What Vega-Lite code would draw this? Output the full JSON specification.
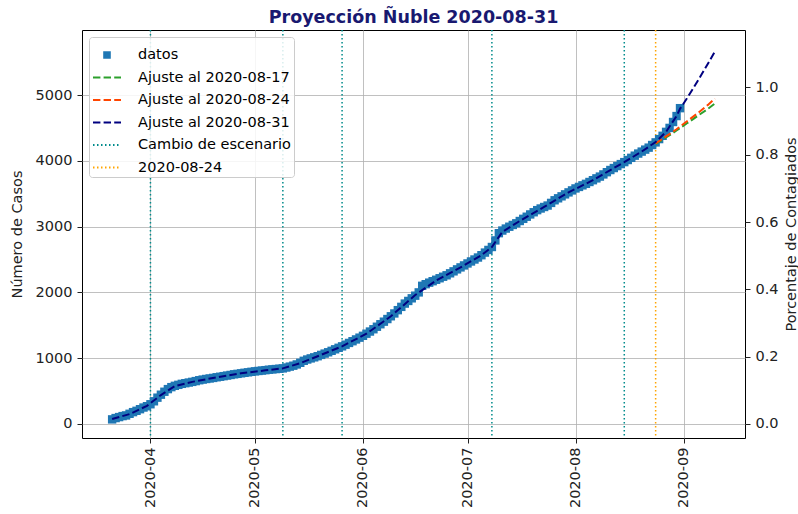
{
  "$schema": "https://vega.github.io/schema/vega-lite/v6.json",
  "width": 663,
  "height": 408,
  "autosize": "none",
  "padding": {"left": 82, "top": 30, "right": 53, "bottom": 76},
  "background": "white",
  "title": {"text": "Proyección Ñuble 2020-08-31", "font": "DejaVu Sans", "fontSize": 17.5, "fontWeight": "bold", "color": "#191970", "anchor": "middle", "offset": 3},
  "config": {
    "font": "DejaVu Sans",
    "view": {"stroke": "#000000", "strokeWidth": 1},
    "axis": {"labelFont": "DejaVu Sans", "labelFontSize": 14.5, "labelColor": "#222222", "titleFont": "DejaVu Sans", "titleFontSize": 14.5, "titleFontWeight": "normal", "titleColor": "#222222", "domain": false, "tickColor": "#222222", "tickSize": 5, "labelPadding": 4, "gridColor": "#b0b0b0", "gridWidth": 0.8, "gridOpacity": 1},
    "legend": {"orient": "top-left", "offset": 7, "fillColor": "rgba(255,255,255,0.85)", "strokeColor": "#cccccc", "cornerRadius": 3, "padding": 3, "labelFont": "DejaVu Sans", "labelFontSize": 14.5, "labelColor": "#000000", "labelLimit": 400, "symbolSize": 784, "symbolStrokeWidth": 2, "symbolOpacity": 1, "rowPadding": 0.5, "labelOffset": 16}
  },
  "datasets": {
    "datos": [
      {"fecha": "2020-03-21", "casos": 70, "serie": "datos"},
      {"fecha": "2020-03-22", "casos": 90, "serie": "datos"},
      {"fecha": "2020-03-23", "casos": 105, "serie": "datos"},
      {"fecha": "2020-03-24", "casos": 120, "serie": "datos"},
      {"fecha": "2020-03-25", "casos": 130, "serie": "datos"},
      {"fecha": "2020-03-26", "casos": 155, "serie": "datos"},
      {"fecha": "2020-03-27", "casos": 180, "serie": "datos"},
      {"fecha": "2020-03-28", "casos": 200, "serie": "datos"},
      {"fecha": "2020-03-29", "casos": 225, "serie": "datos"},
      {"fecha": "2020-03-30", "casos": 250, "serie": "datos"},
      {"fecha": "2020-03-31", "casos": 270, "serie": "datos"},
      {"fecha": "2020-04-01", "casos": 300, "serie": "datos"},
      {"fecha": "2020-04-02", "casos": 345, "serie": "datos"},
      {"fecha": "2020-04-03", "casos": 400, "serie": "datos"},
      {"fecha": "2020-04-04", "casos": 445, "serie": "datos"},
      {"fecha": "2020-04-05", "casos": 490, "serie": "datos"},
      {"fecha": "2020-04-06", "casos": 530, "serie": "datos"},
      {"fecha": "2020-04-07", "casos": 560, "serie": "datos"},
      {"fecha": "2020-04-08", "casos": 580, "serie": "datos"},
      {"fecha": "2020-04-09", "casos": 595, "serie": "datos"},
      {"fecha": "2020-04-10", "casos": 610, "serie": "datos"},
      {"fecha": "2020-04-11", "casos": 620, "serie": "datos"},
      {"fecha": "2020-04-12", "casos": 630, "serie": "datos"},
      {"fecha": "2020-04-13", "casos": 640, "serie": "datos"},
      {"fecha": "2020-04-14", "casos": 652, "serie": "datos"},
      {"fecha": "2020-04-15", "casos": 665, "serie": "datos"},
      {"fecha": "2020-04-16", "casos": 675, "serie": "datos"},
      {"fecha": "2020-04-17", "casos": 684, "serie": "datos"},
      {"fecha": "2020-04-18", "casos": 692, "serie": "datos"},
      {"fecha": "2020-04-19", "casos": 700, "serie": "datos"},
      {"fecha": "2020-04-20", "casos": 710, "serie": "datos"},
      {"fecha": "2020-04-21", "casos": 718, "serie": "datos"},
      {"fecha": "2020-04-22", "casos": 727, "serie": "datos"},
      {"fecha": "2020-04-23", "casos": 736, "serie": "datos"},
      {"fecha": "2020-04-24", "casos": 745, "serie": "datos"},
      {"fecha": "2020-04-25", "casos": 755, "serie": "datos"},
      {"fecha": "2020-04-26", "casos": 762, "serie": "datos"},
      {"fecha": "2020-04-27", "casos": 770, "serie": "datos"},
      {"fecha": "2020-04-28", "casos": 778, "serie": "datos"},
      {"fecha": "2020-04-29", "casos": 785, "serie": "datos"},
      {"fecha": "2020-04-30", "casos": 793, "serie": "datos"},
      {"fecha": "2020-05-01", "casos": 800, "serie": "datos"},
      {"fecha": "2020-05-02", "casos": 806, "serie": "datos"},
      {"fecha": "2020-05-03", "casos": 812, "serie": "datos"},
      {"fecha": "2020-05-04", "casos": 818, "serie": "datos"},
      {"fecha": "2020-05-05", "casos": 825, "serie": "datos"},
      {"fecha": "2020-05-06", "casos": 830, "serie": "datos"},
      {"fecha": "2020-05-07", "casos": 835, "serie": "datos"},
      {"fecha": "2020-05-08", "casos": 840, "serie": "datos"},
      {"fecha": "2020-05-09", "casos": 845, "serie": "datos"},
      {"fecha": "2020-05-10", "casos": 858, "serie": "datos"},
      {"fecha": "2020-05-11", "casos": 872, "serie": "datos"},
      {"fecha": "2020-05-12", "casos": 886, "serie": "datos"},
      {"fecha": "2020-05-13", "casos": 905, "serie": "datos"},
      {"fecha": "2020-05-14", "casos": 930, "serie": "datos"},
      {"fecha": "2020-05-15", "casos": 960, "serie": "datos"},
      {"fecha": "2020-05-16", "casos": 980, "serie": "datos"},
      {"fecha": "2020-05-17", "casos": 997, "serie": "datos"},
      {"fecha": "2020-05-18", "casos": 1013, "serie": "datos"},
      {"fecha": "2020-05-19", "casos": 1030, "serie": "datos"},
      {"fecha": "2020-05-20", "casos": 1050, "serie": "datos"},
      {"fecha": "2020-05-21", "casos": 1070, "serie": "datos"},
      {"fecha": "2020-05-22", "casos": 1090, "serie": "datos"},
      {"fecha": "2020-05-23", "casos": 1112, "serie": "datos"},
      {"fecha": "2020-05-24", "casos": 1135, "serie": "datos"},
      {"fecha": "2020-05-25", "casos": 1158, "serie": "datos"},
      {"fecha": "2020-05-26", "casos": 1180, "serie": "datos"},
      {"fecha": "2020-05-27", "casos": 1205, "serie": "datos"},
      {"fecha": "2020-05-28", "casos": 1232, "serie": "datos"},
      {"fecha": "2020-05-29", "casos": 1258, "serie": "datos"},
      {"fecha": "2020-05-30", "casos": 1285, "serie": "datos"},
      {"fecha": "2020-05-31", "casos": 1312, "serie": "datos"},
      {"fecha": "2020-06-01", "casos": 1340, "serie": "datos"},
      {"fecha": "2020-06-02", "casos": 1372, "serie": "datos"},
      {"fecha": "2020-06-03", "casos": 1405, "serie": "datos"},
      {"fecha": "2020-06-04", "casos": 1440, "serie": "datos"},
      {"fecha": "2020-06-05", "casos": 1478, "serie": "datos"},
      {"fecha": "2020-06-06", "casos": 1516, "serie": "datos"},
      {"fecha": "2020-06-07", "casos": 1555, "serie": "datos"},
      {"fecha": "2020-06-08", "casos": 1595, "serie": "datos"},
      {"fecha": "2020-06-09", "casos": 1637, "serie": "datos"},
      {"fecha": "2020-06-10", "casos": 1680, "serie": "datos"},
      {"fecha": "2020-06-11", "casos": 1730, "serie": "datos"},
      {"fecha": "2020-06-12", "casos": 1780, "serie": "datos"},
      {"fecha": "2020-06-13", "casos": 1830, "serie": "datos"},
      {"fecha": "2020-06-14", "casos": 1870, "serie": "datos"},
      {"fecha": "2020-06-15", "casos": 1910, "serie": "datos"},
      {"fecha": "2020-06-16", "casos": 1950, "serie": "datos"},
      {"fecha": "2020-06-17", "casos": 2000, "serie": "datos"},
      {"fecha": "2020-06-18", "casos": 2100, "serie": "datos"},
      {"fecha": "2020-06-19", "casos": 2125, "serie": "datos"},
      {"fecha": "2020-06-20", "casos": 2148, "serie": "datos"},
      {"fecha": "2020-06-21", "casos": 2170, "serie": "datos"},
      {"fecha": "2020-06-22", "casos": 2192, "serie": "datos"},
      {"fecha": "2020-06-23", "casos": 2215, "serie": "datos"},
      {"fecha": "2020-06-24", "casos": 2238, "serie": "datos"},
      {"fecha": "2020-06-25", "casos": 2260, "serie": "datos"},
      {"fecha": "2020-06-26", "casos": 2290, "serie": "datos"},
      {"fecha": "2020-06-27", "casos": 2320, "serie": "datos"},
      {"fecha": "2020-06-28", "casos": 2350, "serie": "datos"},
      {"fecha": "2020-06-29", "casos": 2380, "serie": "datos"},
      {"fecha": "2020-06-30", "casos": 2410, "serie": "datos"},
      {"fecha": "2020-07-01", "casos": 2440, "serie": "datos"},
      {"fecha": "2020-07-02", "casos": 2470, "serie": "datos"},
      {"fecha": "2020-07-03", "casos": 2500, "serie": "datos"},
      {"fecha": "2020-07-04", "casos": 2530, "serie": "datos"},
      {"fecha": "2020-07-05", "casos": 2565, "serie": "datos"},
      {"fecha": "2020-07-06", "casos": 2605, "serie": "datos"},
      {"fecha": "2020-07-07", "casos": 2645, "serie": "datos"},
      {"fecha": "2020-07-08", "casos": 2690, "serie": "datos"},
      {"fecha": "2020-07-09", "casos": 2790, "serie": "datos"},
      {"fecha": "2020-07-10", "casos": 2900, "serie": "datos"},
      {"fecha": "2020-07-11", "casos": 2940, "serie": "datos"},
      {"fecha": "2020-07-12", "casos": 2970, "serie": "datos"},
      {"fecha": "2020-07-13", "casos": 2998, "serie": "datos"},
      {"fecha": "2020-07-14", "casos": 3025, "serie": "datos"},
      {"fecha": "2020-07-15", "casos": 3050, "serie": "datos"},
      {"fecha": "2020-07-16", "casos": 3085, "serie": "datos"},
      {"fecha": "2020-07-17", "casos": 3118, "serie": "datos"},
      {"fecha": "2020-07-18", "casos": 3150, "serie": "datos"},
      {"fecha": "2020-07-19", "casos": 3185, "serie": "datos"},
      {"fecha": "2020-07-20", "casos": 3218, "serie": "datos"},
      {"fecha": "2020-07-21", "casos": 3250, "serie": "datos"},
      {"fecha": "2020-07-22", "casos": 3275, "serie": "datos"},
      {"fecha": "2020-07-23", "casos": 3298, "serie": "datos"},
      {"fecha": "2020-07-24", "casos": 3320, "serie": "datos"},
      {"fecha": "2020-07-25", "casos": 3360, "serie": "datos"},
      {"fecha": "2020-07-26", "casos": 3400, "serie": "datos"},
      {"fecha": "2020-07-27", "casos": 3430, "serie": "datos"},
      {"fecha": "2020-07-28", "casos": 3460, "serie": "datos"},
      {"fecha": "2020-07-29", "casos": 3490, "serie": "datos"},
      {"fecha": "2020-07-30", "casos": 3520, "serie": "datos"},
      {"fecha": "2020-07-31", "casos": 3550, "serie": "datos"},
      {"fecha": "2020-08-01", "casos": 3580, "serie": "datos"},
      {"fecha": "2020-08-02", "casos": 3603, "serie": "datos"},
      {"fecha": "2020-08-03", "casos": 3627, "serie": "datos"},
      {"fecha": "2020-08-04", "casos": 3650, "serie": "datos"},
      {"fecha": "2020-08-05", "casos": 3678, "serie": "datos"},
      {"fecha": "2020-08-06", "casos": 3705, "serie": "datos"},
      {"fecha": "2020-08-07", "casos": 3733, "serie": "datos"},
      {"fecha": "2020-08-08", "casos": 3760, "serie": "datos"},
      {"fecha": "2020-08-09", "casos": 3793, "serie": "datos"},
      {"fecha": "2020-08-10", "casos": 3827, "serie": "datos"},
      {"fecha": "2020-08-11", "casos": 3860, "serie": "datos"},
      {"fecha": "2020-08-12", "casos": 3890, "serie": "datos"},
      {"fecha": "2020-08-13", "casos": 3920, "serie": "datos"},
      {"fecha": "2020-08-14", "casos": 3950, "serie": "datos"},
      {"fecha": "2020-08-15", "casos": 3980, "serie": "datos"},
      {"fecha": "2020-08-16", "casos": 4012, "serie": "datos"},
      {"fecha": "2020-08-17", "casos": 4045, "serie": "datos"},
      {"fecha": "2020-08-18", "casos": 4078, "serie": "datos"},
      {"fecha": "2020-08-19", "casos": 4110, "serie": "datos"},
      {"fecha": "2020-08-20", "casos": 4140, "serie": "datos"},
      {"fecha": "2020-08-21", "casos": 4170, "serie": "datos"},
      {"fecha": "2020-08-22", "casos": 4200, "serie": "datos"},
      {"fecha": "2020-08-23", "casos": 4240, "serie": "datos"},
      {"fecha": "2020-08-24", "casos": 4280, "serie": "datos"},
      {"fecha": "2020-08-25", "casos": 4330, "serie": "datos"},
      {"fecha": "2020-08-26", "casos": 4380, "serie": "datos"},
      {"fecha": "2020-08-27", "casos": 4440, "serie": "datos"},
      {"fecha": "2020-08-28", "casos": 4500, "serie": "datos"},
      {"fecha": "2020-08-29", "casos": 4590, "serie": "datos"},
      {"fecha": "2020-08-30", "casos": 4680, "serie": "datos"},
      {"fecha": "2020-08-31", "casos": 4800, "serie": "datos"}
    ],
    "ajustes": [
      {"fecha": "2020-08-24", "casos": 4255, "serie": "Ajuste al 2020-08-17"},
      {"fecha": "2020-08-27", "casos": 4355, "serie": "Ajuste al 2020-08-17"},
      {"fecha": "2020-08-30", "casos": 4460, "serie": "Ajuste al 2020-08-17"},
      {"fecha": "2020-09-02", "casos": 4570, "serie": "Ajuste al 2020-08-17"},
      {"fecha": "2020-09-05", "casos": 4680, "serie": "Ajuste al 2020-08-17"},
      {"fecha": "2020-09-08", "casos": 4790, "serie": "Ajuste al 2020-08-17"},
      {"fecha": "2020-09-10", "casos": 4870, "serie": "Ajuste al 2020-08-17"},
      {"fecha": "2020-08-24", "casos": 4265, "serie": "Ajuste al 2020-08-24"},
      {"fecha": "2020-08-27", "casos": 4370, "serie": "Ajuste al 2020-08-24"},
      {"fecha": "2020-08-30", "casos": 4480, "serie": "Ajuste al 2020-08-24"},
      {"fecha": "2020-09-02", "casos": 4600, "serie": "Ajuste al 2020-08-24"},
      {"fecha": "2020-09-05", "casos": 4720, "serie": "Ajuste al 2020-08-24"},
      {"fecha": "2020-09-08", "casos": 4850, "serie": "Ajuste al 2020-08-24"},
      {"fecha": "2020-09-10", "casos": 4945, "serie": "Ajuste al 2020-08-24"},
      {"fecha": "2020-03-21", "casos": 75, "serie": "Ajuste al 2020-08-31"},
      {"fecha": "2020-03-26", "casos": 150, "serie": "Ajuste al 2020-08-31"},
      {"fecha": "2020-03-31", "casos": 275, "serie": "Ajuste al 2020-08-31"},
      {"fecha": "2020-04-04", "casos": 440, "serie": "Ajuste al 2020-08-31"},
      {"fecha": "2020-04-08", "casos": 575, "serie": "Ajuste al 2020-08-31"},
      {"fecha": "2020-04-13", "casos": 640, "serie": "Ajuste al 2020-08-31"},
      {"fecha": "2020-04-20", "casos": 710, "serie": "Ajuste al 2020-08-31"},
      {"fecha": "2020-04-27", "casos": 770, "serie": "Ajuste al 2020-08-31"},
      {"fecha": "2020-05-04", "casos": 815, "serie": "Ajuste al 2020-08-31"},
      {"fecha": "2020-05-09", "casos": 845, "serie": "Ajuste al 2020-08-31"},
      {"fecha": "2020-05-14", "casos": 925, "serie": "Ajuste al 2020-08-31"},
      {"fecha": "2020-05-19", "casos": 1030, "serie": "Ajuste al 2020-08-31"},
      {"fecha": "2020-05-26", "casos": 1180, "serie": "Ajuste al 2020-08-31"},
      {"fecha": "2020-06-02", "casos": 1372, "serie": "Ajuste al 2020-08-31"},
      {"fecha": "2020-06-09", "casos": 1637, "serie": "Ajuste al 2020-08-31"},
      {"fecha": "2020-06-16", "casos": 1960, "serie": "Ajuste al 2020-08-31"},
      {"fecha": "2020-06-22", "casos": 2180, "serie": "Ajuste al 2020-08-31"},
      {"fecha": "2020-06-29", "casos": 2380, "serie": "Ajuste al 2020-08-31"},
      {"fecha": "2020-07-05", "casos": 2565, "serie": "Ajuste al 2020-08-31"},
      {"fecha": "2020-07-08", "casos": 2690, "serie": "Ajuste al 2020-08-31"},
      {"fecha": "2020-07-11", "casos": 2920, "serie": "Ajuste al 2020-08-31"},
      {"fecha": "2020-07-16", "casos": 3085, "serie": "Ajuste al 2020-08-31"},
      {"fecha": "2020-07-23", "casos": 3300, "serie": "Ajuste al 2020-08-31"},
      {"fecha": "2020-07-30", "casos": 3520, "serie": "Ajuste al 2020-08-31"},
      {"fecha": "2020-08-06", "casos": 3705, "serie": "Ajuste al 2020-08-31"},
      {"fecha": "2020-08-11", "casos": 3860, "serie": "Ajuste al 2020-08-31"},
      {"fecha": "2020-08-15", "casos": 3980, "serie": "Ajuste al 2020-08-31"},
      {"fecha": "2020-08-20", "casos": 4140, "serie": "Ajuste al 2020-08-31"},
      {"fecha": "2020-08-24", "casos": 4285, "serie": "Ajuste al 2020-08-31"},
      {"fecha": "2020-08-27", "casos": 4440, "serie": "Ajuste al 2020-08-31"},
      {"fecha": "2020-08-30", "casos": 4680, "serie": "Ajuste al 2020-08-31"},
      {"fecha": "2020-08-31", "casos": 4790, "serie": "Ajuste al 2020-08-31"},
      {"fecha": "2020-09-02", "casos": 4950, "serie": "Ajuste al 2020-08-31"},
      {"fecha": "2020-09-04", "casos": 5120, "serie": "Ajuste al 2020-08-31"},
      {"fecha": "2020-09-06", "casos": 5295, "serie": "Ajuste al 2020-08-31"},
      {"fecha": "2020-09-08", "casos": 5475, "serie": "Ajuste al 2020-08-31"},
      {"fecha": "2020-09-10", "casos": 5660, "serie": "Ajuste al 2020-08-31"}
    ],
    "cambios": [
      {"fecha": "2020-04-01", "serie": "Cambio de escenario"},
      {"fecha": "2020-05-09", "serie": "Cambio de escenario"},
      {"fecha": "2020-05-26", "serie": "Cambio de escenario"},
      {"fecha": "2020-07-08", "serie": "Cambio de escenario"},
      {"fecha": "2020-08-15", "serie": "Cambio de escenario"},
      {"fecha": "2020-08-24", "serie": "2020-08-24"}
    ],
    "porcentaje": [
      {"pct": 0},
      {"pct": 1}
    ]
  },
  "layer": [
    {
      "encoding": {
        "x": {
          "field": "fecha", "type": "temporal",
          "scale": {"type": "utc", "nice": false, "domain": [
            {"year": 2020, "month": 3, "date": 12, "hours": 8, "minutes": 24, "utc": true},
            {"year": 2020, "month": 9, "date": 18, "hours": 15, "minutes": 36, "utc": true}
          ]},
          "axis": {
            "title": null, "format": "%Y-%m", "labelAngle": -90, "labelAlign": "right", "labelBaseline": "middle", "grid": true, "labelPadding": 4,
            "values": [
              {"year": 2020, "month": 4, "date": 1, "utc": true},
              {"year": 2020, "month": 5, "date": 1, "utc": true},
              {"year": 2020, "month": 6, "date": 1, "utc": true},
              {"year": 2020, "month": 7, "date": 1, "utc": true},
              {"year": 2020, "month": 8, "date": 1, "utc": true},
              {"year": 2020, "month": 9, "date": 1, "utc": true}
            ]
          }
        },
        "color": {
          "field": "serie", "type": "nominal",
          "scale": {
            "domain": ["datos", "Ajuste al 2020-08-17", "Ajuste al 2020-08-24", "Ajuste al 2020-08-31", "Cambio de escenario", "2020-08-24"],
            "range": ["#1f77b4", "#2ca02c", "#ff4500", "#000080", "#008b8b", "#ffa500"]
          },
          "legend": {"title": null}
        }
      },
      "layer": [
        {
          "data": {"name": "cambios"},
          "mark": {"type": "rule", "strokeWidth": 1.5},
          "encoding": {
            "strokeDash": {
              "field": "serie", "type": "nominal",
              "scale": {
                "domain": ["datos", "Ajuste al 2020-08-17", "Ajuste al 2020-08-24", "Ajuste al 2020-08-31", "Cambio de escenario", "2020-08-24"],
                "range": [[1, 0], [7.4, 3.2], [7.4, 3.2], [7.4, 3.2], [1.5, 2.5], [1.5, 2.5]]
              },
              "legend": {"title": null}
            }
          }
        },
        {
          "data": {"name": "datos"},
          "mark": {"type": "point", "size": 1764, "opacity": 1, "filled": true},
          "encoding": {
            "y": {"field": "casos", "type": "quantitative", "scale": {"domain": [-213, 5988], "nice": false, "zero": false}, "axis": {"title": "Número de Casos", "format": "d", "values": [0, 1000, 2000, 3000, 4000, 5000], "grid": true, "labelPadding": 5, "titlePadding": 11}},
            "shape": {
              "field": "serie", "type": "nominal",
              "scale": {
                "domain": ["datos", "Ajuste al 2020-08-17", "Ajuste al 2020-08-24", "Ajuste al 2020-08-31", "Cambio de escenario", "2020-08-24"],
                "range": ["M-0.2,-0.2H0.2V0.2H-0.2Z", "stroke", "stroke", "stroke", "stroke", "stroke"]
              },
              "legend": {"title": null}
            }
          }
        },
        {
          "data": {"name": "ajustes"},
          "mark": {"type": "line", "strokeWidth": 2},
          "encoding": {
            "y": {"field": "casos", "type": "quantitative", "scale": {"domain": [-213, 5988], "nice": false, "zero": false}, "axis": {"title": "Número de Casos", "format": "d", "values": [0, 1000, 2000, 3000, 4000, 5000], "grid": true, "labelPadding": 5, "titlePadding": 11}},
            "strokeDash": {
              "field": "serie", "type": "nominal",
              "scale": {
                "domain": ["datos", "Ajuste al 2020-08-17", "Ajuste al 2020-08-24", "Ajuste al 2020-08-31", "Cambio de escenario", "2020-08-24"],
                "range": [[1, 0], [7.4, 3.2], [7.4, 3.2], [7.4, 3.2], [1.5, 2.5], [1.5, 2.5]]
              },
              "legend": {"title": null}
            }
          }
        }
      ]
    },
    {
      "data": {"name": "porcentaje"},
      "mark": {"type": "point", "opacity": 0},
      "encoding": {
        "y": {"field": "pct", "type": "quantitative", "scale": {"domain": [-0.04164, 1.17056], "nice": false, "zero": false}, "axis": {"orient": "right", "title": "Porcentaje de Contagiados", "titleAngle": 270, "titleBaseline": "top", "values": [0, 0.2, 0.4, 0.6, 0.8, 1.0], "format": ".1f", "grid": false, "labelPadding": 5, "titlePadding": 6}}
      }
    }
  ],
  "resolve": {"scale": {"y": "independent"}}
}
